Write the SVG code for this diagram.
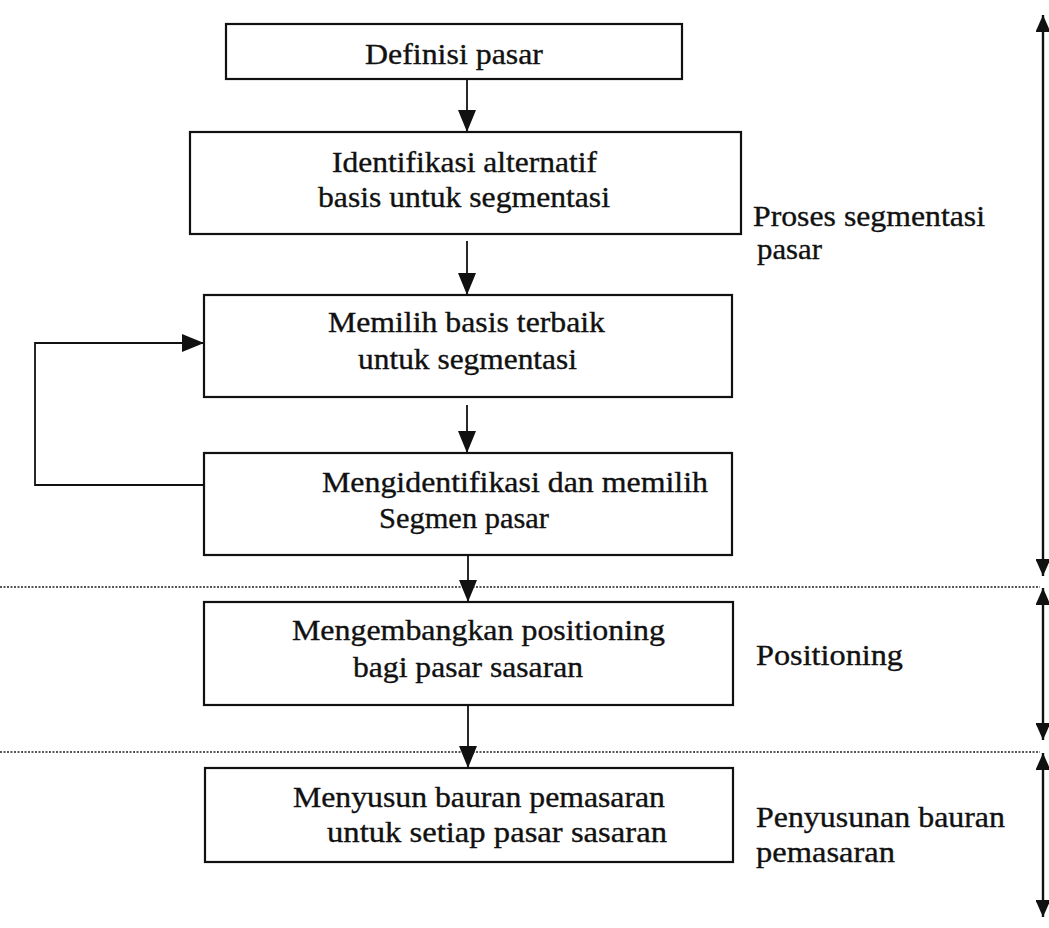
<svg xmlns="http://www.w3.org/2000/svg" width="1049" height="928" viewBox="0 0 1049 928">
  <style>
    .box { fill: #ffffff; stroke: #111111; stroke-width: 2.2; }
    text { font-size: 30px; fill: #111111; stroke: #111111; stroke-width: 0.35; }
    .flow { fill: none; stroke: #111111; stroke-width: 1.8; }
    .span { fill: none; stroke: #111111; stroke-width: 2.4; }
    .sep { fill: none; stroke: #222222; stroke-width: 1.5; stroke-dasharray: 2 1.5; }
  </style>
  <defs>
    <marker id="head" markerUnits="userSpaceOnUse" viewBox="0 0 22 18" markerWidth="22" markerHeight="18" refX="22" refY="9" orient="auto">
      <path d="M0,0 L22,9 L0,18 z" fill="#111111"/>
    </marker>
    <marker id="head-sm" markerUnits="userSpaceOnUse" viewBox="0 0 17 15" markerWidth="17" markerHeight="15" refX="17" refY="7.5" orient="auto-start-reverse">
      <path d="M0,0 L17,7.5 L0,15 z" fill="#111111"/>
    </marker>
  </defs>

  <rect width="1049" height="928" fill="#ffffff"/>

  <!-- phase separators -->
  <g id="separators">
    <line class="sep" x1="0" y1="587" x2="1040" y2="587"/>
    <line class="sep" x1="0" y1="752" x2="1040" y2="752"/>
  </g>

  <!-- connectors -->
  <g id="connectors">
    <line class="flow" x1="467" y1="79" x2="467" y2="132" marker-end="url(#head)"/>
    <line class="flow" x1="467" y1="241" x2="467" y2="295" marker-end="url(#head)"/>
    <line class="flow" x1="467" y1="405" x2="467" y2="453" marker-end="url(#head)"/>
    <line class="flow" x1="468" y1="555" x2="468" y2="602" marker-end="url(#head)"/>
    <line class="flow" x1="468" y1="705" x2="468" y2="768" marker-end="url(#head)"/>
    <!-- feedback loop from segment choice back to basis choice -->
    <polyline class="flow" points="204,485 35,485 35,343 204,343" marker-end="url(#head)"/>
    <!-- phase spans on the right -->
    <line class="span" x1="1043" y1="15" x2="1043" y2="576" marker-start="url(#head-sm)" marker-end="url(#head-sm)"/>
    <line class="span" x1="1043" y1="588" x2="1043" y2="740" marker-start="url(#head-sm)" marker-end="url(#head-sm)"/>
    <line class="span" x1="1043" y1="753" x2="1043" y2="917" marker-start="url(#head-sm)" marker-end="url(#head-sm)"/>
  </g>

  <g font-family="'Liberation Serif', Tinos, 'Times New Roman', Times, serif">
    <g id="n1-definisi">
      <rect class="box" x="226" y="24" width="456" height="55"/>
      <text x="365" y="64" textLength="178" lengthAdjust="spacingAndGlyphs">Definisi pasar</text>
    </g>

    <g id="n2-identifikasi">
      <rect class="box" x="190" y="132" width="551" height="102"/>
      <text x="332" y="172" textLength="265" lengthAdjust="spacingAndGlyphs">Identifikasi alternatif</text>
      <text x="318" y="207" textLength="292" lengthAdjust="spacingAndGlyphs">basis untuk segmentasi</text>
    </g>

    <g id="n3-memilih-basis">
      <rect class="box" x="204" y="295" width="528" height="102"/>
      <text x="328" y="332" textLength="277" lengthAdjust="spacingAndGlyphs">Memilih basis terbaik</text>
      <text x="358" y="369" textLength="219" lengthAdjust="spacingAndGlyphs">untuk segmentasi</text>
    </g>

    <g id="n4-segmen">
      <rect class="box" x="204" y="453" width="528" height="102"/>
      <text x="322" y="492" textLength="386" lengthAdjust="spacingAndGlyphs">Mengidentifikasi dan memilih</text>
      <text x="379" y="528" textLength="170" lengthAdjust="spacingAndGlyphs">Segmen pasar</text>
    </g>

    <g id="n5-positioning">
      <rect class="box" x="204" y="602" width="529" height="103"/>
      <text x="292" y="640" textLength="373" lengthAdjust="spacingAndGlyphs">Mengembangkan positioning</text>
      <text x="353" y="677" textLength="230" lengthAdjust="spacingAndGlyphs">bagi pasar sasaran</text>
    </g>

    <g id="n6-bauran">
      <rect class="box" x="205" y="768" width="528" height="94"/>
      <text x="293" y="807" textLength="372" lengthAdjust="spacingAndGlyphs">Menyusun bauran pemasaran</text>
      <text x="327" y="842" textLength="340" lengthAdjust="spacingAndGlyphs">untuk setiap pasar sasaran</text>
    </g>

    <!-- phase labels -->
    <g id="phase-labels">
      <text x="753" y="226" textLength="232" lengthAdjust="spacingAndGlyphs">Proses segmentasi</text>
      <text x="757" y="259" textLength="65" lengthAdjust="spacingAndGlyphs">pasar</text>
      <text x="756" y="665" textLength="147" lengthAdjust="spacingAndGlyphs">Positioning</text>
      <text x="756" y="827" textLength="249" lengthAdjust="spacingAndGlyphs">Penyusunan bauran</text>
      <text x="756" y="862" textLength="139" lengthAdjust="spacingAndGlyphs">pemasaran</text>
    </g>
  </g>
</svg>
